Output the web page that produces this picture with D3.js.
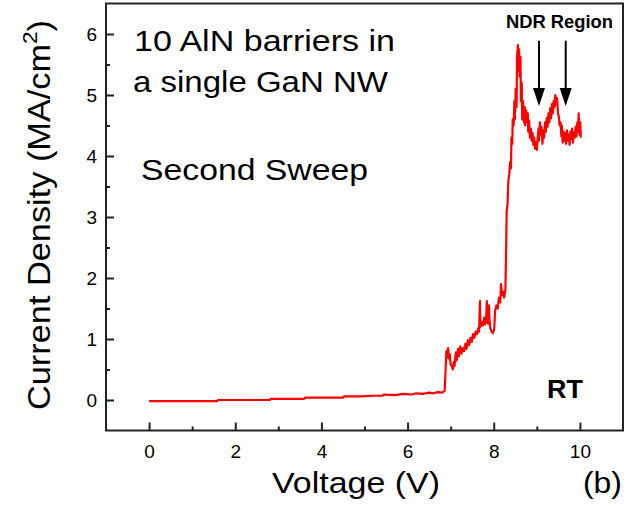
<!DOCTYPE html>
<html>
<head>
<meta charset="utf-8">
<script src="https://cdn.jsdelivr.net/npm/d3@7"></script>
<style>
  body { margin: 0; background: white; }
  svg text { font-family: "Liberation Sans", Arial, sans-serif; fill: #000; }
</style>
</head>
<body>
<div id="main"></div>
<script>
// I-V curve (V in volts, J in MA/cm^2)
var voltage = [
  0, 0.5, 1.0, 1.58, 1.6, 2.2, 2.8, 2.82, 3.2, 3.6, 3.62, 4.0, 4.5, 4.52, 4.9, 5.2, 5.42, 5.45, 5.7, 5.9, 6.1, 6.2, 6.35, 6.5, 6.6, 6.7, 6.8,
  6.86, 6.88, 6.90, 6.92, 6.94, 6.96, 6.98, 7.00, 7.03, 7.05, 7.07, 7.09, 7.12, 7.14, 7.17, 7.19, 7.22, 7.25, 7.28, 7.31, 7.34, 7.37, 7.40,
  7.43, 7.46, 7.49, 7.52, 7.55, 7.58, 7.61, 7.64, 7.66, 7.68, 7.69, 7.72, 7.75, 7.78, 7.80, 7.82, 7.84, 7.85, 7.87, 7.89, 7.90, 7.92, 7.95,
  7.98, 8.01, 8.03, 8.06, 8.09, 8.12, 8.15, 8.17, 8.19, 8.22, 8.24, 8.27, 8.29, 8.30, 8.32, 8.34, 8.36, 8.38, 8.40, 8.41, 8.43, 8.44, 8.46,
  8.48, 8.49, 8.51, 8.53, 8.54, 8.56, 8.57, 8.59, 8.60, 8.62, 8.63, 8.65, 8.66, 8.68, 8.70, 8.72, 8.73, 8.75, 8.77, 8.79, 8.80, 8.82, 8.84,
  8.86, 8.88, 8.90, 8.92, 8.94, 8.96, 8.98, 9.00, 9.02, 9.04, 9.05, 9.07, 9.09, 9.11, 9.13, 9.15, 9.17, 9.19, 9.21, 9.23, 9.25, 9.27, 9.29,
  9.31, 9.33, 9.35, 9.37, 9.39, 9.41, 9.43, 9.45, 9.47, 9.49, 9.51, 9.53, 9.55, 9.57, 9.58, 9.60, 9.62, 9.64, 9.66, 9.68, 9.70, 9.72, 9.74,
  9.76, 9.78, 9.80, 9.82, 9.84, 9.86, 9.88, 9.90, 9.92, 9.94, 9.96, 9.97, 9.99, 10.01, 10.02
]
var density = [
  -0.02, -0.02, -0.02, -0.02, 0.0, 0.0, 0.0, 0.02, 0.02, 0.02, 0.04, 0.04, 0.04, 0.06, 0.06, 0.07, 0.07, 0.09, 0.08, 0.10, 0.09, 0.11, 0.10, 0.12, 0.11, 0.13, 0.12,
  0.15, 0.45, 0.80, 0.70, 0.85, 0.68, 0.75, 0.58, 0.55, 0.50, 0.62, 0.56, 0.78, 0.65, 0.84, 0.72, 0.88, 0.76, 0.85, 0.80, 0.92, 0.84, 0.98,
  0.90, 1.02, 0.95, 1.08, 1.02, 1.12, 1.08, 1.18, 1.12, 1.62, 1.20, 1.28, 1.22, 1.35, 1.24, 1.28, 1.62, 1.30, 1.25, 1.55, 1.32, 1.18, 1.12,
  1.10, 1.15, 1.45, 1.55, 1.50, 1.68, 1.60, 1.90, 1.72, 1.78, 1.68, 1.80, 2.60, 3.10, 3.20, 3.60, 3.70, 3.90, 3.80, 4.30, 4.20, 4.60, 4.50,
  4.90, 4.60, 5.10, 4.80, 5.60, 5.82, 5.40, 5.75, 5.30, 5.62, 4.90, 5.20, 4.60, 4.90, 4.55, 4.80, 4.50, 4.75, 4.55, 4.70, 4.40, 4.58, 4.30,
  4.45, 4.25, 4.38, 4.18, 4.30, 4.12, 4.22, 4.10, 4.30, 4.45, 4.25, 4.55, 4.35, 4.48, 4.20, 4.42, 4.30, 4.55, 4.40, 4.62, 4.48, 4.70, 4.55,
  4.78, 4.62, 4.85, 4.70, 4.90, 4.80, 5.00, 4.85, 4.95, 4.70, 4.65, 4.50, 4.55, 4.32, 4.50, 4.22, 4.40, 4.25, 4.38, 4.20, 4.42, 4.25, 4.35,
  4.18, 4.40, 4.28, 4.45, 4.22, 4.38, 4.30, 4.48, 4.32, 4.55, 4.40, 4.70, 4.35, 4.55, 4.30
]

var xMajor = [0, 2, 4, 6, 8, 10]
var xMinor = [1, 3, 5, 7, 9]
var yMajor = [0, 1, 2, 3, 4, 5, 6]
var yMinor = [0.5, 1.5, 2.5, 3.5, 4.5, 5.5]

// NDR arrows: voltage position, start and tip current density
var arrowV = [9.05, 9.67]
var arrowTop = 5.89
var arrowTip = 4.82

var width = 636, height = 506

var svg = d3.select("#main")
    .append("svg")
    .attr("width", width)
    .attr("height", height)

var x = d3.scaleLinear().domain([-1, 11]).range([106, 623])
var y = d3.scaleLinear().domain([-0.5, 6.5]).range([430.5, 3.5])

// minor ticks first (no labels)
svg.append("g")
    .attr("transform", "translate(0," + y(-0.5) + ")")
    .call(d3.axisBottom(x).tickValues(xMinor).tickSize(-4).tickFormat(""))
svg.append("g")
    .attr("transform", "translate(" + x(-1) + ",0)")
    .call(d3.axisLeft(y).tickValues(yMinor).tickSize(-4).tickFormat(""))

var xAxis = svg.append("g")
    .attr("transform", "translate(0," + y(-0.5) + ")")
    .call(d3.axisBottom(x).tickValues(xMajor).tickSize(-8).tickPadding(14).tickFormat(d3.format("d")))
var yAxis = svg.append("g")
    .attr("transform", "translate(" + x(-1) + ",0)")
    .call(d3.axisLeft(y).tickValues(yMajor).tickSize(-8).tickPadding(9).tickFormat(d3.format("d")))

svg.selectAll(".domain").remove()
svg.selectAll(".tick line").attr("stroke", "#222").attr("stroke-width", 2)
svg.selectAll(".tick text")
    .style("font-size", "19px")
    .style("font-family", '"Liberation Sans", Arial, sans-serif')
    .attr("fill", "#000")

// frame
svg.append("rect")
    .attr("x", x(-1))
    .attr("y", y(6.5))
    .attr("width", x(11) - x(-1))
    .attr("height", y(-0.5) - y(6.5))
    .attr("fill", "none")
    .attr("stroke", "#222")
    .attr("stroke-width", 2)

// the curve
var pts = voltage.map(function (v, i) { return [v, density[i]] })
var line = d3.line()
    .x(function (d) { return x(d[0]) })
    .y(function (d) { return y(d[1]) })

svg.append("path")
    .datum(pts)
    .attr("d", line)
    .attr("fill", "none")
    .attr("stroke", "#ff0000")
    .attr("stroke-width", 2.2)
    .attr("stroke-linejoin", "round")

// arrows
arrowV.forEach(function (v) {
    var ax = x(v), top = y(arrowTop), tip = y(arrowTip)
    svg.append("line")
        .attr("x1", ax).attr("x2", ax)
        .attr("y1", top).attr("y2", tip - 10)
        .attr("stroke", "#000")
        .attr("stroke-width", 2)
    svg.append("path")
        .attr("d", "M" + (ax - 6) + "," + (tip - 18) + "L" + (ax + 6) + "," + (tip - 18) + "L" + ax + "," + tip + "Z")
        .attr("fill", "#000")
})

// texts
function label(txt, px, py, size, len, weight) {
    var t = svg.append("text")
        .attr("x", px)
        .attr("y", py)
        .style("font-size", size + "px")
        .text(txt)
    if (weight) t.style("font-weight", weight)
    if (len) t.attr("textLength", len).attr("lengthAdjust", "spacingAndGlyphs")
    return t
}

label("10 AlN barriers in", 134, 51, 30, 261)
label("a single GaN NW", 133, 92, 30, 255)
label("Second Sweep", 141, 180, 29, 227)
label("NDR Region", 506, 28, 18, 107, "bold")
label("RT", 547, 398, 25, 36, "bold")
label("Voltage (V)", 272, 493, 29, 168)
label("(b)", 583, 493, 29, 39)

var yTitle = svg.append("text")
    .attr("transform", "translate(50,410) rotate(-90)")
    .style("font-size", "32px")
    .attr("textLength", 390)
    .attr("lengthAdjust", "spacingAndGlyphs")
yTitle.append("tspan").text("Current Density (MA/cm")
yTitle.append("tspan").attr("dy", -13).style("font-size", "21px").text("2")
yTitle.append("tspan").attr("dy", 13).text(")")
</script>
</body>
</html>
